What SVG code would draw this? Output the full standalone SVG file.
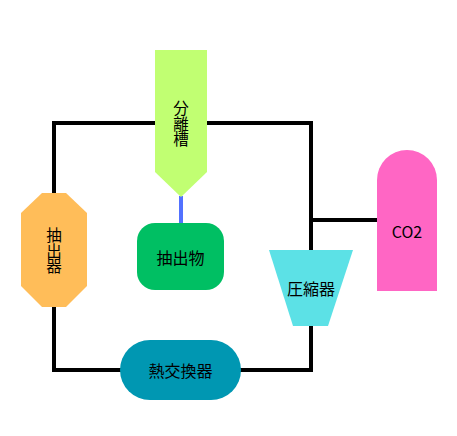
<svg xmlns="http://www.w3.org/2000/svg" width="457" height="436" viewBox="0 0 457 436">
<style>
.t{font-family:"Noto Sans CJK JP","Noto Sans CJK SC",sans-serif;font-size:16px;fill:#000;text-anchor:middle;dominant-baseline:central}
.v{font-size:15.5px;writing-mode:vertical-rl}
.pipe{fill:none;stroke:#000;stroke-width:4;stroke-linecap:square}
</style>
<rect width="457" height="436" fill="#fff"/>
<g id="connectors">
<path class="pipe" d="M54,193 V123 H311 V250"/>
<path class="pipe" d="M54,307 V370 H122"/>
<path class="pipe" d="M240,370 H311 V326"/>
<path class="pipe" d="M311,220 H377" style="stroke-linecap:butt"/>
<line x1="181" y1="196" x2="181" y2="223" stroke="#5271FF" stroke-width="4"/>
</g>
<g id="separator">
<path d="M155,50 H207 V172 L181,197 L155,172 Z" fill="#C1FF72"/>
<text class="t v" x="181" y="124">分離槽</text>
</g>
<g id="extractor">
<path d="M42,193 H66 L87,213 V286 L66,307 H42 L21,286 V213 Z" fill="#FFBD59"/>
<text class="t v" x="54" y="251">抽出器</text>
</g>
<g id="extract">
<rect x="137" y="223" width="87" height="67" rx="18" fill="#00BF63"/>
<text class="t" x="180.5" y="256.5">抽出物</text>
</g>
<g id="compressor">
<path d="M269,250 H353 L328,326 H293 Z" fill="#5CE1E6"/>
<text class="t" x="311" y="288">圧縮器</text>
</g>
<g id="co2">
<path d="M377,291 V180 A30,30 0 0 1 437,180 V291 Z" fill="#FF66C4"/>
<text class="t" x="407" y="230.5">CO2</text>
</g>
<g id="heat-exchanger">
<rect x="120" y="340" width="121" height="60" rx="30" fill="#0097B2"/>
<text class="t" x="180.5" y="370">熱交換器</text>
</g>
</svg>
